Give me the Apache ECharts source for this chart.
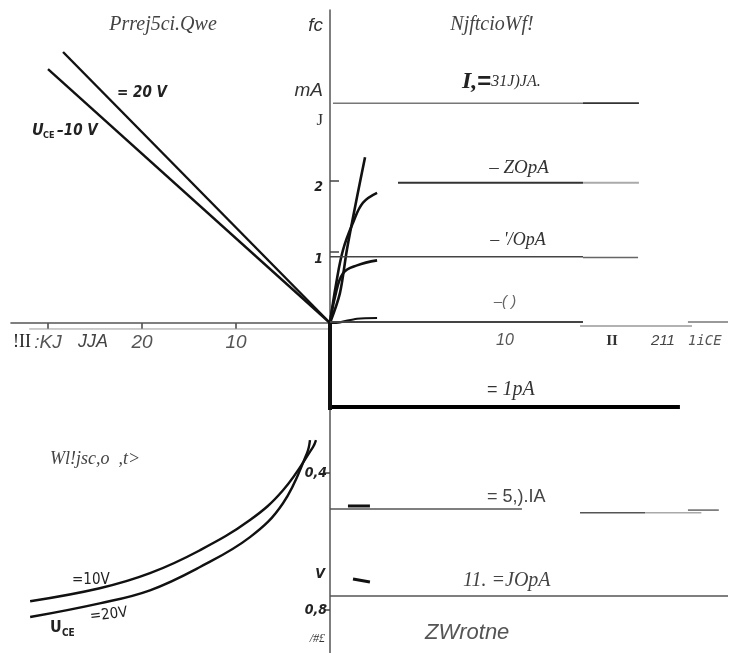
<!DOCTYPE html>
<html>
<head>
<meta charset="utf-8">
<script src="https://cdn.jsdelivr.net/npm/echarts@6/dist/echarts.min.js"></script>
<style>html,body{margin:0;padding:0;background:#fff;}#c{width:731px;height:653px;}</style>
</head>
<body>
<div id="c"></div>
<script>
// ---------- data ----------
// tick values / labels
const ibTicks = [10, 20, 30];
const ibTickLabels = ['10', '20', ':KJ'];
const icTicks = [1, 2];
const icTickLabels = ['1', '2'];
const ubeTicks = [0.4, 0.8];
const ubeTickLabels = ['0,4', '0,8'];

// upper-left: I_C (mA) vs I_B (uA)
const transfer10V = [[0, 0], [30, 3.57]];
const transfer20V = [[0, 0], [28.4, 3.81]];
const ibAxisMain = [[34, 0], [0, 0]];
const ibAxisSecond = [[32, -0.084], [0, -0.084]];

// upper-right: I_C (mA) vs U_CE (V)
const outRise1 = [[0, 0], [0.57, 0.42], [0.97, 1.03], [1.55, 1.77], [2.01, 2.33]];
const outRise2 = [[0, 0], [0.35, 0.55], [0.75, 1.03], [1.32, 1.41], [1.89, 1.69], [2.70, 1.83]];
const outRise3 = [[0, 0], [0.29, 0.37], [0.75, 0.70], [1.55, 0.81], [2.70, 0.88]];
const outRise4 = [[0, 0], [0.57, 0.01], [1.55, 0.06], [2.70, 0.07]];
const level30a = [[0.17, 3.09], [14.51, 3.09]];
const level30b = [[14.51, 3.09], [17.72, 3.09]];
const level20a = [[3.90, 1.97], [14.51, 1.97]];
const level20b = [[14.51, 1.97], [17.72, 1.97]];
const level10a = [[0, 0.93], [14.51, 0.93]];
const level10b = [[14.51, 0.92], [17.67, 0.92]];
const level0a = [[0, 0.014], [14.51, 0.014]];
const level0b = [[14.34, -0.042], [20.76, -0.042]];
const level0c = [[20.53, 0.014], [22.83, 0.014]];

// lower-left: U_BE (V) vs I_B (uA)
const input10V = [[31.9, 0.774], [24.5, 0.736], [19.15, 0.692], [13.83, 0.625], [8.51, 0.537], [5.0, 0.450], [1.81, 0.324], [1.49, 0.304]];
const input20V = [[31.9, 0.820], [24.5, 0.780], [19.15, 0.742], [13.83, 0.674], [8.51, 0.587], [5.0, 0.488], [2.45, 0.342], [2.13, 0.304]];

// lower-right: U_BE (V) vs U_CE (V)
const ube1 = [[0, 0.207], [20.07, 0.207]];
const ube5a = [[0, 0.505], [11.01, 0.505]];
const ube5b = [[14.34, 0.516], [18.07, 0.516]];
const ube5c = [[18.07, 0.516], [21.3, 0.516]];
const ube5d = [[20.53, 0.508], [22.3, 0.508]];
const ube10 = [[0, 0.759], [22.83, 0.759]];
const dash1 = [[1.03, 0.496], [2.29, 0.496]];
const dash2 = [[1.32, 0.709], [2.29, 0.718]];
const thickAxis = [[0, -0.038], [0, 0.216]];

// ---------- chart ----------
const chart = echarts.init(document.getElementById('c'), null, {renderer: 'canvas'});

function ln(data, gi, color, width, smooth) {
  return {
    type: 'line', xAxisIndex: gi, yAxisIndex: gi, data: data,
    symbol: 'none', clip: false, silent: true, animation: false,
    smooth: smooth || false,
    lineStyle: {color: color, width: width, cap: 'butt'}
  };
}
const pick = (ticks, labels) => v => {
  for (let i = 0; i < ticks.length; i++) if (Math.abs(ticks[i] - v) < 1e-6) return labels[i];
  return '';
};
const hid = {show: false};
const ax = (o) => Object.assign({type: 'value', splitLine: hid, axisLine: hid, axisTick: hid, axisLabel: hid}, o);

const condFont = '"DejaVu Sans Condensed", "DejaVu Sans", sans-serif';
const serif = '"Liberation Serif", "DejaVu Serif", serif';
const sans = '"Liberation Sans", Arial, sans-serif';

const option = {
  backgroundColor: '#fff',
  animation: false,
  grid: [
    {left: 1, top: 10, width: 329, height: 313, outerBoundsMode: 'none'},
    {left: 330, top: 10, width: 401, height: 313, outerBoundsMode: 'none'},
    {left: 1, top: 336, width: 329, height: 317, outerBoundsMode: 'none'},
    {left: 330, top: 336, width: 401, height: 317, outerBoundsMode: 'none'}
  ],
  xAxis: [
    ax({gridIndex: 0, min: 0, max: 35, inverse: true, interval: 10,
      axisTick: {show: true, customValues: ibTicks, length: 6, lineStyle: {color: '#444', width: 1.5}},
      axisLabel: {show: true, customValues: ibTicks, margin: 10, formatter: pick(ibTicks, ibTickLabels),
        color: '#555', fontSize: 19, fontStyle: 'italic', fontFamily: sans}}),
    ax({gridIndex: 1, min: 0, max: 23}),
    ax({gridIndex: 2, min: 0, max: 35, inverse: true}),
    ax({gridIndex: 3, min: 0, max: 23})
  ],
  yAxis: [
    ax({gridIndex: 0, min: 0, max: 4.4}),
    ax({gridIndex: 1, min: 0, max: 4.4, interval: 1,
      axisLine: {show: true, lineStyle: {color: '#555', width: 1.5}},
      axisTick: {show: true, inside: true, customValues: icTicks, length: 9, lineStyle: {color: '#444', width: 1.5}},
      axisLabel: {show: true, customValues: icTicks, formatter: pick(icTicks, icTickLabels), margin: 7,
        verticalAlign: 'top', color: '#222', fontSize: 14, fontStyle: 'italic', fontWeight: 'bold', fontFamily: condFont}}),
    ax({gridIndex: 2, min: 0, max: 0.925, inverse: true}),
    ax({gridIndex: 3, min: 0, max: 0.925, inverse: true, interval: 0.4,
      axisLine: {show: true, lineStyle: {color: '#555', width: 1.5}},
      axisTick: {show: true, customValues: ubeTicks, length: 5, lineStyle: {color: '#444', width: 1.5}},
      axisLabel: {show: true, customValues: ubeTicks, formatter: pick(ubeTicks, ubeTickLabels), margin: 3,
        color: '#222', fontSize: 14, fontStyle: 'italic', fontWeight: 'bold', fontFamily: condFont}})
  ],
  series: [
    ln(ibAxisMain, 0, '#555', 1.5),
    ln(ibAxisSecond, 0, '#999', 1),
    ln(transfer10V, 0, '#111', 2.4),
    ln(transfer20V, 0, '#111', 2.4),

    ln(outRise1, 1, '#111', 2.6, 0.3),
    ln(outRise2, 1, '#111', 2.6, 0.4),
    ln(outRise3, 1, '#111', 2.6, 0.4),
    ln(outRise4, 1, '#111', 2.2, 0.3),
    ln(level30a, 1, '#777', 1.5),
    ln(level30b, 1, '#333', 1.8),
    ln(level20a, 1, '#333', 2),
    ln(level20b, 1, '#aaa', 2),
    ln(level10a, 1, '#444', 1.5),
    ln(level10b, 1, '#666', 1.5),
    ln(level0a, 1, '#444', 2),
    ln(level0b, 1, '#999', 1.3),
    ln(level0c, 1, '#777', 1.3),

    ln(input10V, 2, '#111', 2.4, 0.4),
    ln(input20V, 2, '#111', 2.4, 0.4),

    ln(ube1, 3, '#000', 4),
    ln(ube5a, 3, '#555', 1.5),
    ln(ube5b, 3, '#555', 1.5),
    ln(ube5c, 3, '#aaa', 1.5),
    ln(ube5d, 3, '#666', 1.5),
    ln(ube10, 3, '#555', 1.5),
    ln(dash1, 3, '#111', 3),
    ln(dash2, 3, '#111', 3),
    ln(thickAxis, 3, '#111', 4)
  ],
  graphic: []
};

function txt(text, x, y, font, fill, align, extra) {
  return Object.assign({type: 'text', x: x, y: y, silent: true,
    style: {text: text, font: font, fill: fill, align: align || 'center', verticalAlign: 'middle'}}, extra || {});
}
function rich(x, y, parts, styles) {
  return {type: 'text', x: x, y: y, silent: true,
    style: {text: parts, rich: styles, align: 'left', verticalAlign: 'middle'}};
}
const it = (s, f) => 'italic ' + s + 'px ' + f;
option.graphic = [
  txt('Prrej5ci.Qwe', 163, 25, it(20, serif), '#444'),
  txt('fc', 323, 26, it(19, sans), '#333', 'right'),
  txt('NjftcioWf!', 492, 25, it(20, serif), '#444'),
  txt('mA', 323, 91, it(19, sans), '#333', 'right'),
  txt('J', 323, 121, '17px ' + serif, '#333', 'right'),
  rich(462, 82, '{a|I,}{b|=}{c|31J)JA.}', {
    a: {font: 'italic bold 24px ' + serif, fill: '#222'},
    b: {font: 'bold 24px ' + sans, fill: '#222'},
    c: {font: 'italic 16px ' + serif, fill: '#333'}
  }),
  txt('= 20 V', 117, 93, 'italic bold 15px ' + condFont, '#222', 'left'),
  txt('U', 32, 131, 'italic bold 16px ' + condFont, '#222', 'left'),
  txt('CE', 43, 136, 'bold 9px ' + condFont, '#222', 'left'),
  txt('\u201310 V', 57, 131, 'italic bold 15px ' + condFont, '#222', 'left'),
  txt('\u2013 ZOpA', 519, 168, it(19, serif), '#333'),
  txt("\u2013 '/OpA", 518, 240, it(18, serif), '#333'),
  txt('\u2013( )', 505, 302, it(15, sans), '#666'),
  txt('10', 505, 341, it(16, sans), '#555'),
  txt('II', 612, 341, 'bold 15px ' + serif, '#333'),
  txt('211', 663, 341, it(15, sans), '#444'),
  txt('1iCE', 688, 341, it(14, '"DejaVu Sans Mono", monospace'), '#555', 'left'),
  txt('!II', 22, 342, '18px ' + serif, '#222'),
  txt('JJA', 93, 342, it(18, sans), '#444'),
  rich(487, 390, '{a|=}{b| 1pA}', {
    a: {font: '18px ' + sans, fill: '#333'},
    b: {font: 'italic 20px ' + serif, fill: '#333'}
  }),
  txt('Wl!jsc,o  ,t>', 50, 459, it(18, serif), '#444', 'left'),
  txt('= 5,).IA', 487, 497, '18px ' + sans, '#444', 'left'),
  txt('V', 320, 574, 'italic bold 14px ' + condFont, '#222'),
  txt('11. =JOpA', 463, 581, it(20, serif), '#444', 'left'),
  txt('/#\u00a3', 325, 639, it(12, serif), '#333', 'right'),
  txt('ZWrotne', 425, 633, it(22, sans), '#555', 'left'),
  txt('=10V', 72, 580, '15px ' + condFont, '#222', 'left'),
  txt('U', 50, 628, 'bold 16px ' + condFont, '#222', 'left'),
  txt('CE', 62, 633, 'bold 10px ' + condFont, '#222', 'left'),
  txt('=20V', 90, 617, '15px ' + condFont, '#222', 'left', {rotation: 0.12})
];

chart.setOption(option);
</script>
</body>
</html>
